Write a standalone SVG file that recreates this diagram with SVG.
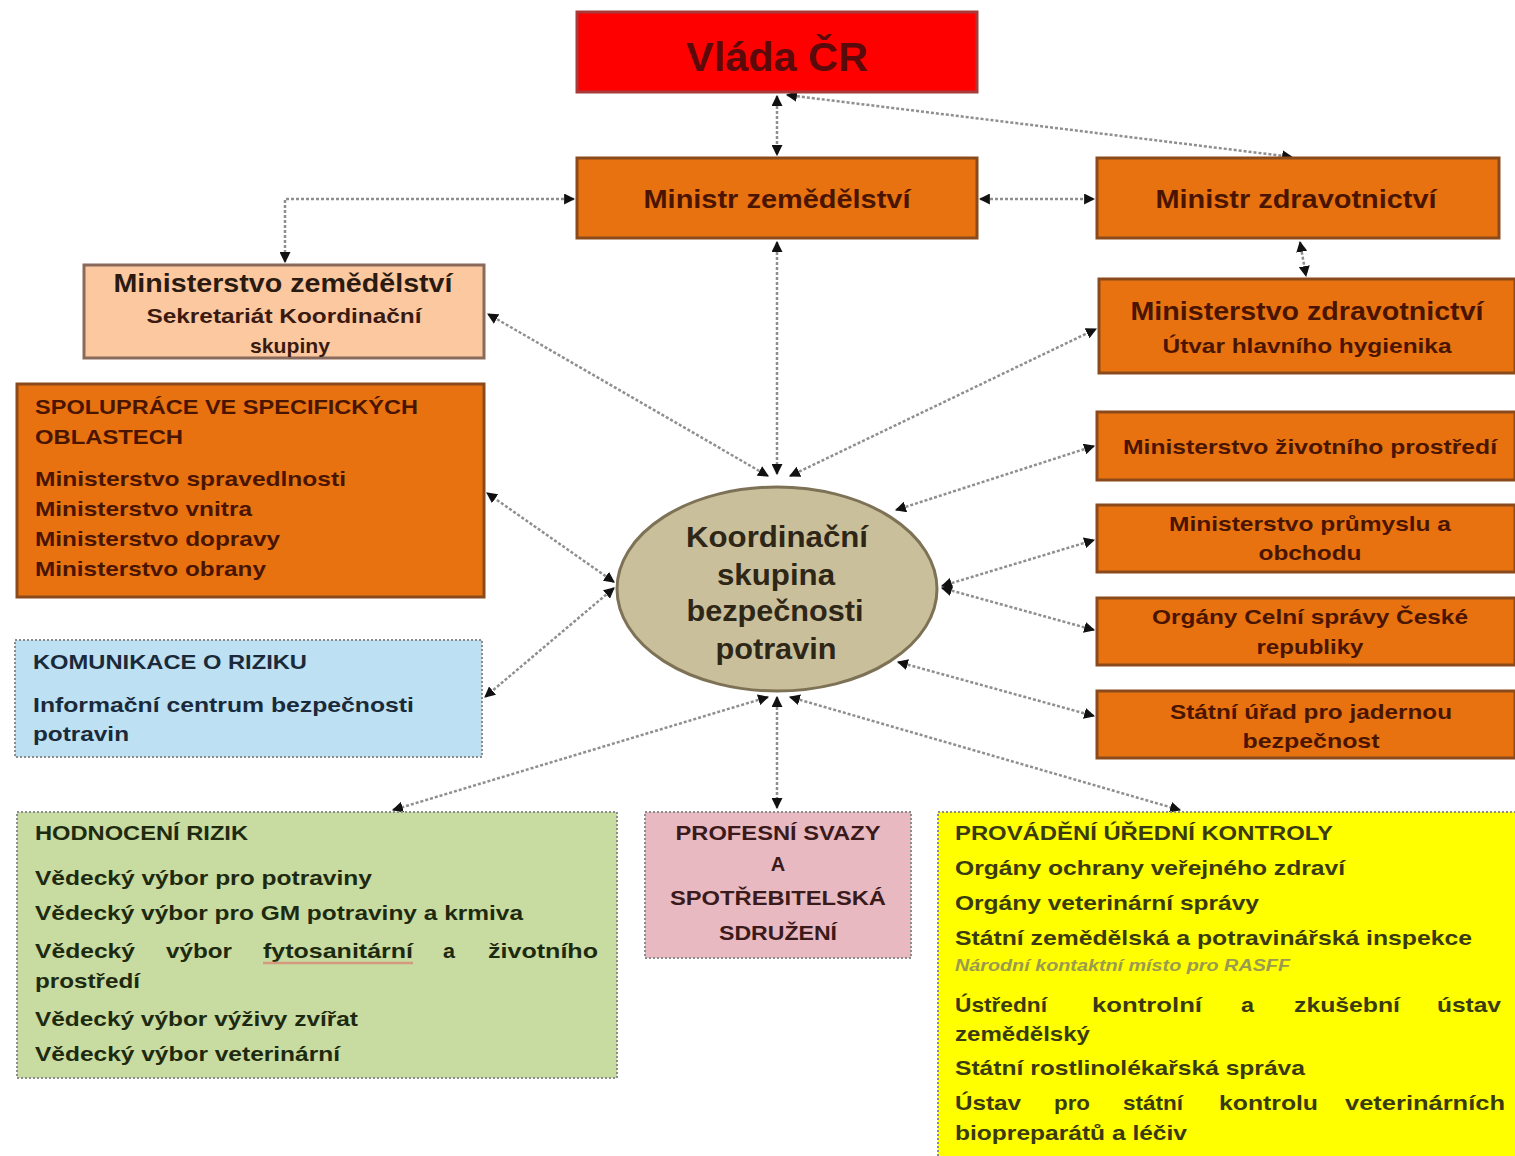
<svg xmlns="http://www.w3.org/2000/svg" width="1515" height="1156" viewBox="0 0 1515 1156">
<style>
text{font-family:"Liberation Sans",Arial,sans-serif;font-weight:bold}
.org{fill:#e8720f;stroke:#8a4a1c;stroke-width:3}
.tb{fill:#4a1500}
.c{text-anchor:middle}
.dot{stroke:#8c8c8c;stroke-width:2;stroke-dasharray:2 2}
.con{fill:none;stroke:#8f8f8f;stroke-width:2.5;stroke-dasharray:3 2;marker-start:url(#ah);marker-end:url(#ah)}
</style>
<defs>
<marker id="ah" viewBox="0 0 10 10" refX="9" refY="5" markerWidth="11" markerHeight="11" markerUnits="userSpaceOnUse" orient="auto-start-reverse">
<path d="M0,0 L10,5 L0,10 z" fill="#111"/>
</marker>
</defs>
<rect width="1515" height="1156" fill="#fff"/>

<g id="connectors">
<path class="con" d="M777,96 L777,155"/>
<path class="con" d="M787,95 L1292,157"/>
<path class="con" d="M574,199 L285,199 L285,262"/>
<path class="con" d="M980,199 L1094,199"/>
<path class="con" d="M1300,242 L1306,276"/>
<path class="con" d="M777,242 L777,474"/>
<path class="con" d="M768,476 L488,314"/>
<path class="con" d="M790,476 L1096,329"/>
<path class="con" d="M896,510 L1094,446"/>
<path class="con" d="M942,586 L1094,540"/>
<path class="con" d="M942,588 L1094,630"/>
<path class="con" d="M898,662 L1094,716"/>
<path class="con" d="M614,582 L487,493"/>
<path class="con" d="M614,588 L485,697"/>
<path class="con" d="M768,697 L393,810"/>
<path class="con" d="M777,697 L777,808"/>
<path class="con" d="M790,697 L1180,810"/>
</g>

<g id="vlada">
<rect x="577" y="12" width="400" height="80" fill="#ff0000" stroke="#a83a3a" stroke-width="3"/>
<text x="777" y="71" class="c" font-size="40" fill="#5a0a0a" textLength="182" lengthAdjust="spacingAndGlyphs">Vláda ČR</text>
</g>

<g id="ministr-zem">
<rect class="org" x="577" y="158" width="400" height="80"/>
<text x="777" y="208" class="c tb" font-size="25" textLength="267" lengthAdjust="spacingAndGlyphs">Ministr zemědělství</text>
</g>

<g id="ministr-zdrav">
<rect class="org" x="1097" y="158" width="402" height="80"/>
<text x="1296" y="208" class="c tb" font-size="25" textLength="281" lengthAdjust="spacingAndGlyphs">Ministr zdravotnictví</text>
</g>

<g id="mze">
<rect x="84" y="265" width="400" height="93" fill="#fbc8a0" stroke="#8a6a5a" stroke-width="3"/>
<text x="283" y="292" class="c" font-size="25" fill="#2a1a10" textLength="339" lengthAdjust="spacingAndGlyphs">Ministerstvo zemědělství</text>
<text x="284" y="323" class="c" font-size="21" fill="#3a1a10" textLength="275" lengthAdjust="spacingAndGlyphs">Sekretariát Koordinační</text>
<text x="290" y="353" class="c" font-size="21" fill="#3a1a10" textLength="80" lengthAdjust="spacingAndGlyphs">skupiny</text>
</g>

<g id="spoluprace">
<rect class="org" x="17" y="384" width="467" height="213"/>
<text x="35" y="414" class="tb" font-size="21" textLength="383" lengthAdjust="spacingAndGlyphs">SPOLUPRÁCE VE SPECIFICKÝCH</text>
<text x="35" y="444" class="tb" font-size="21" textLength="148" lengthAdjust="spacingAndGlyphs">OBLASTECH</text>
<text x="35" y="486" class="tb" font-size="21" textLength="311" lengthAdjust="spacingAndGlyphs">Ministerstvo spravedlnosti</text>
<text x="35" y="516" class="tb" font-size="21" textLength="217" lengthAdjust="spacingAndGlyphs">Ministerstvo vnitra</text>
<text x="35" y="546" class="tb" font-size="21" textLength="245" lengthAdjust="spacingAndGlyphs">Ministerstvo dopravy</text>
<text x="35" y="576" class="tb" font-size="21" textLength="231" lengthAdjust="spacingAndGlyphs">Ministerstvo obrany</text>
</g>

<g id="komunikace">
<rect x="15" y="640" width="467" height="117" fill="#bde0f2" class="dot"/>
<text x="33" y="669" font-size="20" fill="#1a2a3a" textLength="274" lengthAdjust="spacingAndGlyphs">KOMUNIKACE O RIZIKU</text>
<text x="33" y="712" font-size="21" fill="#1a2a3a" textLength="381" lengthAdjust="spacingAndGlyphs">Informační centrum bezpečnosti</text>
<text x="33" y="741" font-size="21" fill="#1a2a3a" textLength="96" lengthAdjust="spacingAndGlyphs">potravin</text>
</g>

<g id="mzd">
<rect class="org" x="1099" y="279" width="416" height="94"/>
<text x="1307" y="320" class="c tb" font-size="25" textLength="353" lengthAdjust="spacingAndGlyphs">Ministerstvo zdravotnictví</text>
<text x="1307" y="353" class="c tb" font-size="21" textLength="289" lengthAdjust="spacingAndGlyphs">Útvar hlavního hygienika</text>
</g>

<g id="mzp">
<rect class="org" x="1097" y="412" width="418" height="68"/>
<text x="1310" y="454" class="c tb" font-size="21" textLength="374" lengthAdjust="spacingAndGlyphs">Ministerstvo životního prostředí</text>
</g>

<g id="mpo">
<rect class="org" x="1097" y="505" width="418" height="67"/>
<text x="1310" y="531" class="c tb" font-size="21" textLength="282" lengthAdjust="spacingAndGlyphs">Ministerstvo průmyslu  a</text>
<text x="1310" y="560" class="c tb" font-size="21" textLength="103" lengthAdjust="spacingAndGlyphs">obchodu</text>
</g>

<g id="celni">
<rect class="org" x="1097" y="598" width="418" height="67"/>
<text x="1310" y="624" class="c tb" font-size="21" textLength="316" lengthAdjust="spacingAndGlyphs">Orgány Celní  správy České</text>
<text x="1310" y="654" class="c tb" font-size="21" textLength="107" lengthAdjust="spacingAndGlyphs">republiky</text>
</g>

<g id="sujb">
<rect class="org" x="1097" y="691" width="418" height="67"/>
<text x="1311" y="719" class="c tb" font-size="21" textLength="282" lengthAdjust="spacingAndGlyphs">Státní úřad pro jadernou</text>
<text x="1311" y="748" class="c tb" font-size="21" textLength="137" lengthAdjust="spacingAndGlyphs">bezpečnost</text>
</g>

<g id="koordinacni">
<ellipse cx="777" cy="589" rx="160" ry="102" fill="#c9bf9b" stroke="#7d7256" stroke-width="3"/>
<text x="777" y="547" class="c" font-size="29" fill="#2e2616" textLength="182" lengthAdjust="spacingAndGlyphs">Koordinační</text>
<text x="776" y="585" class="c" font-size="29" fill="#2e2616" textLength="118" lengthAdjust="spacingAndGlyphs">skupina</text>
<text x="775" y="621" class="c" font-size="29" fill="#2e2616" textLength="177" lengthAdjust="spacingAndGlyphs">bezpečnosti</text>
<text x="776" y="659" class="c" font-size="29" fill="#2e2616" textLength="121" lengthAdjust="spacingAndGlyphs">potravin</text>
</g>

<g id="hodnoceni">
<rect x="17" y="812" width="600" height="266" fill="#c8dba0" class="dot"/>
<text x="35" y="840" font-size="20" fill="#1e2a10" textLength="213" lengthAdjust="spacingAndGlyphs">HODNOCENÍ RIZIK</text>
<text x="35" y="885" font-size="21" fill="#1e2a10" textLength="337" lengthAdjust="spacingAndGlyphs">Vědecký výbor pro potraviny</text>
<text x="35" y="920" font-size="21" fill="#1e2a10" textLength="488" lengthAdjust="spacingAndGlyphs">Vědecký výbor pro GM potraviny a krmiva</text>
<text y="958" font-size="21" fill="#1e2a10"><tspan x="35" textLength="100" lengthAdjust="spacingAndGlyphs">Vědecký</tspan><tspan x="166" textLength="66" lengthAdjust="spacingAndGlyphs">výbor</tspan><tspan x="263" textLength="150" lengthAdjust="spacingAndGlyphs">fytosanitární</tspan><tspan x="443" textLength="12" lengthAdjust="spacingAndGlyphs">a</tspan><tspan x="488" textLength="110" lengthAdjust="spacingAndGlyphs">životního</tspan></text>
<line x1="263" y1="963" x2="413" y2="963" stroke="#d49a80" stroke-width="2.5"/>
<text x="35" y="988" font-size="21" fill="#1e2a10" textLength="105" lengthAdjust="spacingAndGlyphs">prostředí</text>
<text x="35" y="1026" font-size="21" fill="#1e2a10" textLength="323" lengthAdjust="spacingAndGlyphs">Vědecký výbor výživy zvířat</text>
<text x="35" y="1061" font-size="21" fill="#1e2a10" textLength="305" lengthAdjust="spacingAndGlyphs">Vědecký výbor veterinární</text>
</g>

<g id="profesni">
<rect x="645" y="812" width="266" height="146" fill="#e9b9c1" class="dot"/>
<text x="778" y="840" class="c" font-size="20" fill="#3a1a1a" textLength="205" lengthAdjust="spacingAndGlyphs">PROFESNÍ SVAZY</text>
<text x="778" y="871" class="c" font-size="20" fill="#3a1a1a">A</text>
<text x="778" y="905" class="c" font-size="20" fill="#3a1a1a" textLength="216" lengthAdjust="spacingAndGlyphs">SPOTŘEBITELSKÁ</text>
<text x="778" y="940" class="c" font-size="20" fill="#3a1a1a" textLength="118" lengthAdjust="spacingAndGlyphs">SDRUŽENÍ</text>
</g>

<g id="provadeni">
<rect x="938" y="812" width="590" height="360" fill="#ffff00" class="dot"/>
<text x="955" y="840" font-size="20" fill="#3a3a10" textLength="378" lengthAdjust="spacingAndGlyphs">PROVÁDĚNÍ ÚŘEDNÍ KONTROLY</text>
<text x="955" y="875" font-size="21" fill="#3a3a10" textLength="390" lengthAdjust="spacingAndGlyphs">Orgány ochrany veřejného zdraví</text>
<text x="955" y="910" font-size="21" fill="#3a3a10" textLength="304" lengthAdjust="spacingAndGlyphs">Orgány veterinární správy</text>
<text x="955" y="945" font-size="21" fill="#3a3a10" textLength="517" lengthAdjust="spacingAndGlyphs">Státní zemědělská a potravinářská inspekce</text>
<text x="955" y="971" font-size="16" font-style="italic" font-weight="normal" fill="#9a9a50" textLength="335" lengthAdjust="spacingAndGlyphs">Národní kontaktní místo pro RASFF</text>
<text y="1012" font-size="21" fill="#3a3a10"><tspan x="955" textLength="92" lengthAdjust="spacingAndGlyphs">Ústřední</tspan><tspan x="1092" textLength="110" lengthAdjust="spacingAndGlyphs">kontrolní</tspan><tspan x="1241" textLength="13" lengthAdjust="spacingAndGlyphs">a</tspan><tspan x="1294" textLength="106" lengthAdjust="spacingAndGlyphs">zkušební</tspan><tspan x="1437" textLength="64" lengthAdjust="spacingAndGlyphs">ústav</tspan></text>
<text x="955" y="1041" font-size="21" fill="#3a3a10" textLength="135" lengthAdjust="spacingAndGlyphs">zemědělský</text>
<text x="955" y="1075" font-size="21" fill="#3a3a10" textLength="350" lengthAdjust="spacingAndGlyphs">Státní rostlinolékařská správa</text>
<text y="1110" font-size="21" fill="#3a3a10"><tspan x="955" textLength="66" lengthAdjust="spacingAndGlyphs">Ústav</tspan><tspan x="1054" textLength="36" lengthAdjust="spacingAndGlyphs">pro</tspan><tspan x="1123" textLength="60" lengthAdjust="spacingAndGlyphs">státní</tspan><tspan x="1219" textLength="99" lengthAdjust="spacingAndGlyphs">kontrolu</tspan><tspan x="1345" textLength="160" lengthAdjust="spacingAndGlyphs">veterinárních</tspan></text>
<text x="955" y="1140" font-size="21" fill="#3a3a10" textLength="232" lengthAdjust="spacingAndGlyphs">biopreparátů a léčiv</text>
</g>
</svg>
